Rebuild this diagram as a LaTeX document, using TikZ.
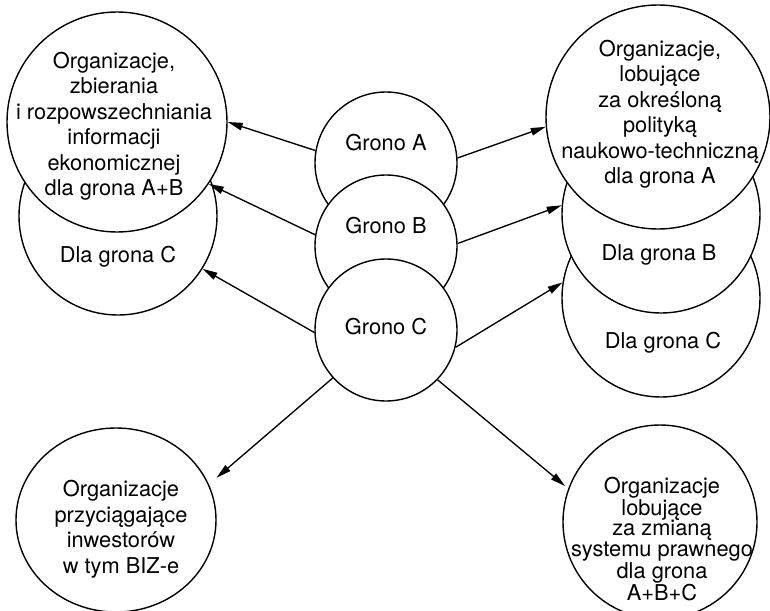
\documentclass[tikz,border=0pt]{standalone}
\usepackage{fontspec}
\setmainfont{TeX Gyre Heros}
\usetikzlibrary{arrows.meta,shapes.geometric}
\begin{document}
\begin{tikzpicture}[x=1pt,y=-1pt,
  ring/.style={circle,draw,fill=white,line width=1.4pt,inner sep=0pt,minimum size=#1},
  oval/.style={ellipse,draw,fill=white,line width=1.4pt,inner sep=0pt},
  lbl/.style={align=center,inner sep=0pt,font=\fontsize{21.8}{25.5}\selectfont},
  conn/.style={line width=1.35pt,-{Triangle[length=15pt,width=7.5pt]}}]
\clip (0,0) rectangle (770,610);
% left stack
\node[ring=198pt] (lc) at (118,216) {};
\node[ring=220pt] (tl) at (117,122) {};
% centre stack
\node[ring=142pt] (ga) at (386,163) {};
\node[ring=142pt] (gb) at (386,246) {};
\node[ring=142pt] (gc) at (386,330) {};
% right stack
\node[ring=198pt] (rc) at (661,298) {};
\node[ring=198pt] (rb) at (661,214) {};
\node[ring=224pt] (tr) at (658,117) {};
% bottom
\node[oval,minimum width=200pt,minimum height=184pt] (bl) at (116,520) {};
\node[ring=194pt] (br) at (660,522) {};
% texts
\node[lbl] (tltext) at (114,126) {Organizacje,\\zbierania\\i rozpowszechniania\\informacji\\ekonomicznej\\dla grona A+B};
\node[lbl] (lctext) at (118,257) {Dla grona C};
\node[lbl] (gatext) at (386,143) {Grono A};
\node[lbl] (gbtext) at (386,226) {Grono B};
\node[lbl] (gctext) at (386,327) {Grono C};
\node[lbl] (trtext) at (660,114) {Organizacje,\\lobujące\\za określoną\\polityką\\naukowo-techniczną\\dla grona A};
\node[lbl] (rbtext) at (659,255) {Dla grona B};
\node[lbl] (rctext) at (663,343) {Dla grona C};
\node[lbl] (bltext) at (121,529) {Organizacje\\przyciągające\\inwestorów\\w tym BIZ-e};
\node[lbl,font=\fontsize{21.8}{20.5}\selectfont] (brtext) at (662,539) {Organizacje\\lobujące\\za zmianą\\systemu prawnego\\dla grona\\A+B+C};
% connectors
\draw[conn] (ga.170) -- (tl.0);
\draw[conn] (gb.171) -- (tl.326);
\draw[conn] (gc.182) -- (lc.328);
\draw[conn] (ga.4) -- (tr.185);
\draw[conn] (gb.2) -- (rb.175);
\draw[conn] (gc.346) -- (rc.171);
\draw[conn,shorten >=10pt] (gc.222) -- (bl.21);
\draw[conn,shorten >=4pt] (gc.316) -- (br.160);
\end{tikzpicture}
\end{document}
